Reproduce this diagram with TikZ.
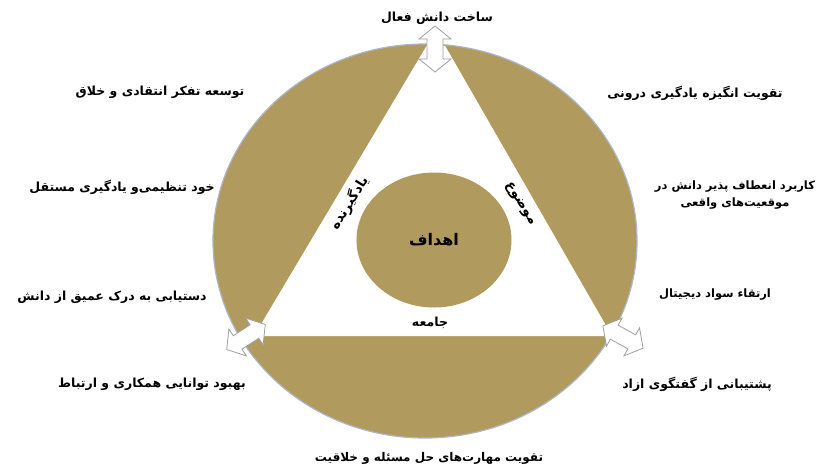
\documentclass[tikz,border=0pt]{standalone}
\usepackage{fontspec}
\usetikzlibrary{shapes.geometric}
\TeXXeTstate=1
\newfontfamily\fa[Script=Arabic]{DejaVu Sans}
\definecolor{gold}{RGB}{176,154,93}
\definecolor{rim}{RGB}{172,182,198}
\begin{document}
\begin{tikzpicture}[x=1pt,y=-1pt,
  lbl/.style={font=\fa\bfseries\fontsize{12.5}{17}\selectfont, text=black, inner sep=0pt, align=center},
  inlbl/.style={font=\fa\bfseries\fontsize{13.5}{15}\selectfont, text=black, inner sep=0pt},
  darrow/.pic={\draw[draw=gray!75, fill=white, line width=0.8pt, line join=miter]
     (-23,0) -- (-10,-16) -- (-10,-8) -- (10,-8) -- (10,-16) -- (23,0)
     -- (10,16) -- (10,8) -- (-10,8) -- (-10,16) -- cycle;}]
\useasboundingbox (0,0) rectangle (831,467);
\fill[white] (0,0) rectangle (831,467);
% outer ellipse
\node (outer) at (425,241) [ellipse, fill=gold, draw=rim, line width=1.2pt, minimum width=424pt, minimum height=394pt, inner sep=0pt] {};
\begin{scope}
  \clip (425,241) ellipse [x radius=211pt, y radius=196pt];
  \fill[white] (436,30) -- (254,336) -- (612,336) -- cycle;
\end{scope}
% inner circle
\node (goal) at (434,240) [ellipse, fill=gold, minimum width=155pt, minimum height=135pt, inner sep=0pt, font=\fa\bfseries\fontsize{16}{18}\selectfont] {\beginR اهداف\endR};
% side labels of triangle
\node[inlbl, rotate=58] (learner) at (349,203) {\beginR یادگیرنده\endR};
\node[inlbl, rotate=-58] (subject) at (520,204) {\beginR موضوع\endR};
\node[inlbl, font=\fa\bfseries\fontsize{12.5}{14}\selectfont] (society) at (430,323) {\beginR جامعه\endR};
% arrows
\pic[rotate=90] (atop) at (435,49) {darrow};
\pic[rotate=33] (aleft) at (246,337) {darrow};
\pic[rotate=-29] (aright) at (623,337) {darrow};
% outer labels
\node[lbl] (t1) at (437,18) {\beginR ساخت دانش فعال\endR};
\node[lbl] (l1) at (160,92) {\beginR توسعه تفکر انتقادی و خلاق\endR};
\node[lbl] (r1) at (695,93) {\beginR تقویت انگیزه یادگیری درونی\endR};
\node[lbl] (l2) at (122,187) {\beginR خود تنظیمی‌و یادگیری مستقل\endR};
\node[lbl, font=\fa\bfseries\fontsize{11.5}{17}\selectfont] (r2) at (735,195) {\beginR کاربرد انعطاف پذیر دانش در\endR\\\beginR موقعیت‌های واقعی\endR};
\node[lbl, font=\fa\bfseries\fontsize{11.5}{14}\selectfont] (r3) at (715,295) {\beginR ارتقاء سواد دیجیتال\endR};
\node[lbl] (l3) at (112,297) {\beginR دستیابی به درک عمیق از دانش\endR};
\node[lbl] (l4) at (152,384) {\beginR بهبود توانایی همکاری و ارتباط\endR};
\node[lbl] (r4) at (697,384) {\beginR پشتیبانی از گفتگوی ازاد\endR};
\node[lbl, font=\fa\bfseries\fontsize{12}{14}\selectfont] (b1) at (429,458) {\beginR تقویت مهارت‌های حل مسئله و خلاقیت\endR};
\end{tikzpicture}
\end{document}
